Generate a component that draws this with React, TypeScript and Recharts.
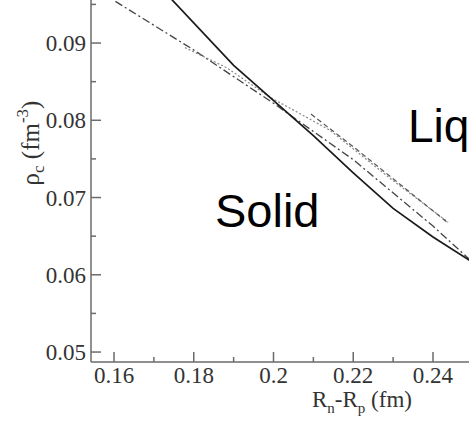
import React from "react";
import { LineChart, Line, XAxis, YAxis } from "recharts";

// R_n - R_p (fm) vs rho_c (fm^-3)
const solidX = [0.17, 0.19, 0.21, 0.22, 0.23, 0.24, 0.25];
const solidY = [0.0981, 0.0871, 0.078, 0.0732, 0.0686, 0.0649, 0.0616];

const dashDotX = [0.15, 0.16, 0.18, 0.2, 0.22, 0.24, 0.25];
const dashDotY = [0.1017, 0.0955, 0.0891, 0.0822, 0.0749, 0.0663, 0.0616];

const dottedX = [0.1778, 0.1883, 0.1991, 0.2142, 0.2292, 0.2438];
const dottedY = [0.0894, 0.0868, 0.083, 0.0787, 0.0725, 0.0668];

const dashedX = [0.2094, 0.2202, 0.2438];
const dashedY = [0.0808, 0.0765, 0.0667];

const xTicks = [0.16, 0.17, 0.18, 0.19, 0.2, 0.21, 0.22, 0.23, 0.24];
const xMajor = [0.16, 0.18, 0.2, 0.22, 0.24];
const yTicks = [0.05, 0.055, 0.06, 0.065, 0.07, 0.075, 0.08, 0.085, 0.09, 0.095];
const yMajor = [0.05, 0.06, 0.07, 0.08, 0.09];

const toPoints = (xs: number[], ys: number[]) => xs.map((x, i) => ({ x, y: ys[i] }));

const AXIS = "#6b6b6b";
const LABEL = "#333";
const SERIF = "'Liberation Serif', 'Times New Roman', serif";
const SANS = "'Liberation Sans', Arial, sans-serif";

const isMajor = (list: number[], v: number) => list.some((m) => Math.abs(m - v) < 1e-9);

const YTick = (props: any) => {
  const { x, y, payload } = props;
  const major = isMajor(yMajor, payload.value);
  return (
    <g>
      <line x1={x} x2={x + (major ? 10 : 5)} y1={y} y2={y} stroke={AXIS} strokeWidth={1.5} />
      {major && (
        <text x={x - 5} y={y + 8} textAnchor="end" style={{ fontFamily: SERIF, fontSize: 23 }} fill={LABEL}>
          {String(payload.value)}
        </text>
      )}
    </g>
  );
};

const XTick = (props: any) => {
  const { x, y, payload } = props;
  const major = isMajor(xMajor, payload.value);
  return (
    <g>
      <line x1={x} x2={x} y1={y} y2={y - (major ? 10 : 5)} stroke={AXIS} strokeWidth={1.5} />
      {major && (
        <text x={x} y={y + 21} textAnchor="middle" style={{ fontFamily: SERIF, fontSize: 23 }} fill={LABEL}>
          {String(payload.value)}
        </text>
      )}
    </g>
  );
};

export default function App() {
  return (
    <div style={{ position: "absolute", left: 0, top: 0, width: 469, height: 422, overflow: "hidden", background: "#fff" }}>
      <LineChart width={469} height={422} margin={{ top: 0, right: 0, bottom: 0, left: 0 }}>
        <XAxis
          type="number"
          dataKey="x"
          domain={[0.15423, 0.24903]}
          allowDataOverflow
          ticks={xTicks}
          interval={0}
          height={60}
          tickSize={0}
          tickMargin={0}
          tickLine={false}
          axisLine={{ stroke: AXIS, strokeWidth: 1.5 }}
          tick={<XTick />}
        />
        <YAxis
          type="number"
          dataKey="y"
          domain={[0.04871, 0.09557]}
          allowDataOverflow
          ticks={yTicks}
          interval={0}
          width={91}
          tickSize={0}
          tickMargin={0}
          tickLine={false}
          axisLine={{ stroke: AXIS, strokeWidth: 1.5 }}
          tick={<YTick />}
        />
        <Line data={toPoints(dashDotX, dashDotY)} dataKey="y" type="linear" stroke="#444" strokeWidth={1.3} strokeDasharray="8 3 2 3" dot={false} isAnimationActive={false} />
        <Line data={toPoints(dottedX, dottedY)} dataKey="y" type="linear" stroke="#888" strokeWidth={1.2} strokeDasharray="2 2" dot={false} isAnimationActive={false} />
        <Line data={toPoints(dashedX, dashedY)} dataKey="y" type="linear" stroke="#555" strokeWidth={1.2} strokeDasharray="5 3" dot={false} isAnimationActive={false} />
        <Line data={toPoints(solidX, solidY)} dataKey="y" type="linear" stroke="#1a1a1a" strokeWidth={1.7} dot={false} isAnimationActive={false} />
      </LineChart>
      <svg width={469} height={422} style={{ position: "absolute", left: 0, top: 0, pointerEvents: "none" }}>
        <text x={312} y={407} style={{ fontFamily: SERIF, fontSize: 23 }} fill={LABEL}>
          R<tspan style={{ fontSize: 15 }} dy={6}>n</tspan>
          <tspan dy={-6}>-R</tspan>
          <tspan style={{ fontSize: 15 }} dy={6}>p</tspan>
          <tspan dy={-6}> (fm)</tspan>
        </text>
        <text
          x={0}
          y={0}
          transform="translate(39 143) rotate(-90)"
          textAnchor="middle"
          style={{ fontFamily: SERIF, fontSize: 25 }}
          fill={LABEL}
        >
          ρ<tspan style={{ fontSize: 17 }} dy={5}>c</tspan>
          <tspan dy={-5}> (fm</tspan>
          <tspan style={{ fontSize: 17 }} dy={-11}>-3</tspan>
          <tspan dy={11}>)</tspan>
        </text>
        <text x={215} y={227} style={{ fontFamily: SANS, fontSize: 47 }} fill="#000">Solid</text>
        <text x={408} y={142} style={{ fontFamily: SANS, fontSize: 46 }} fill="#000">Liq</text>
      </svg>
    </div>
  );
}
